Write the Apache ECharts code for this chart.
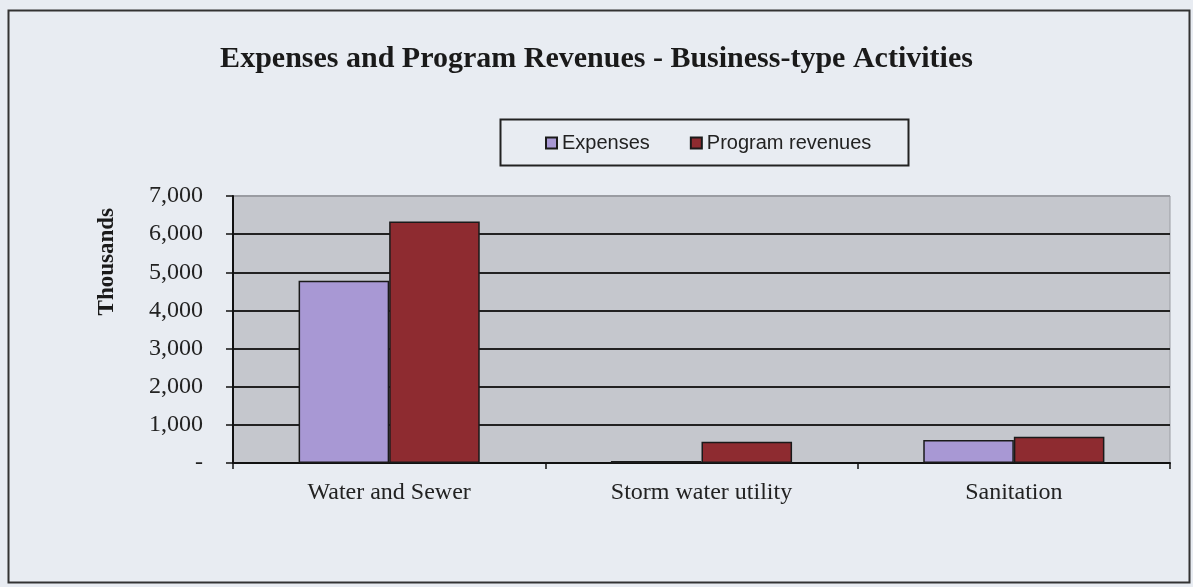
<!DOCTYPE html>
<html>
<head>
<meta charset="utf-8">
<script src="https://cdn.jsdelivr.net/npm/echarts@6/dist/echarts.min.js"></script>
<style>
html,body{margin:0;padding:0;background:#e8ecf2;}
#chart{width:1193px;height:587px;}
</style>
</head>
<body>
<div id="chart"></div>
<script>
const categories = ['Water and Sewer', 'Storm water utility', 'Sanitation'];
const expenses = [4780, 50, 600];
const programRevenues = [6330, 560, 690];
const yTicks = [0, 1000, 2000, 3000, 4000, 5000, 6000, 7000];

const chart = echarts.init(document.getElementById('chart'), null, {renderer: 'canvas'});
const serif = '"Liberation Serif", "Times New Roman", serif';
const sans = '"Liberation Sans", Arial, sans-serif';

chart.setOption({
  backgroundColor: '#e8ecf2',
  animation: false,
  title: {
    text: 'Expenses and Program Revenues - Business-type Activities',
    left: 'center',
    top: 39,
    textStyle: {fontFamily: serif, fontWeight: 'bold', fontSize: 30, color: '#1a1a1a'}
  },
  legend: {
    left: 540,
    top: 128,
    itemWidth: 11,
    itemHeight: 11,
    itemGap: 40,
    icon: 'rect',
    textStyle: {fontFamily: sans, fontSize: 20, color: '#222'},
    data: ['Expenses', 'Program revenues']
  },
  graphic: [
    {type: 'rect', left: 6, top: 8, shape: {width: 1181, height: 572},
     style: {fill: 'none', stroke: '#333', lineWidth: 2}, z: -1},
    {type: 'rect', left: 498, top: 117, shape: {width: 408, height: 46},
     style: {fill: 'none', stroke: '#222', lineWidth: 2}, z: 10},
    {type: 'text', left: 96, top: 208, rotation: Math.PI / 2,
     style: {text: 'Thousands', font: 'bold 23px ' + serif, fill: '#1a1a1a'}}
  ],
  grid: {
    left: 233, right: 23, top: 196, bottom: 124,
    show: true, backgroundColor: '#c5c7cd', borderColor: '#9a9ca2', borderWidth: 1
  },
  xAxis: {
    type: 'category',
    data: categories,
    axisLine: {lineStyle: {color: '#111', width: 2}},
    axisTick: {show: true, length: 6, lineStyle: {color: '#111', width: 1.5}},
    axisLabel: {fontFamily: serif, fontSize: 24, color: '#222', margin: 18}
  },
  yAxis: {
    type: 'value',
    min: 0, max: 7000, interval: 1000,
    axisLine: {show: true, lineStyle: {color: '#111', width: 2}},
    axisTick: {show: true, length: 7, inside: false, lineStyle: {color: '#111', width: 1.5}},
    axisLabel: {
      fontFamily: serif, fontSize: 24, color: '#222', margin: 30,
      formatter: function (v) { return v === 0 ? '-' : v.toLocaleString('en-US'); }
    },
    splitLine: {show: true, lineStyle: {color: ['#222','#222','#222','#222','#222','#222','#222','#9a9ca2'], width: 2}}
  },
  series: [
    {
      name: 'Expenses', type: 'bar', data: expenses,
      barGap: '0%', barCategoryGap: '42%',
      itemStyle: {color: '#a898d4', borderColor: '#1a1a1a', borderWidth: 1.5}
    },
    {
      name: 'Program revenues', type: 'bar', data: programRevenues,
      itemStyle: {color: '#8e2b30', borderColor: '#1a1a1a', borderWidth: 1.5}
    }
  ]
});
</script>
</body>
</html>
